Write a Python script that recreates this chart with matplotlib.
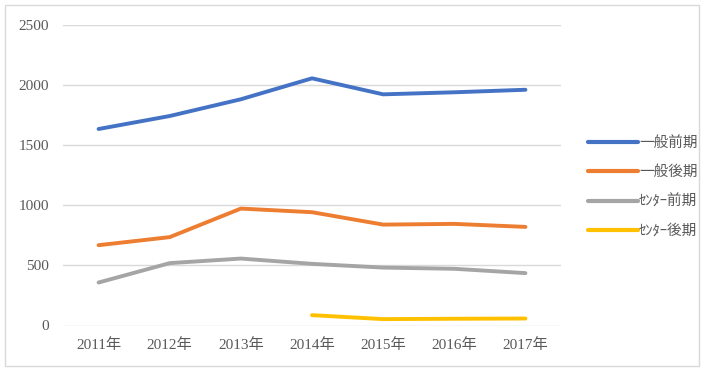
import matplotlib
matplotlib.use("Agg")
import matplotlib.pyplot as plt
from matplotlib.patches import Rectangle

years = ["2011年", "2012年", "2013年", "2014年", "2015年", "2016年", "2017年"]
ippan_zenki = [1632, 1740, 1879, 2053, 1920, 1937, 1958]
ippan_kouki = [667, 734, 971, 941, 838, 844, 819]
center_zenki = [357, 518, 556, 512, 481, 471, 435]
center_kouki = [None, None, None, 86, 53, 56, 58]
series_names = ["一般前期", "一般後期", "ｾﾝﾀｰ前期", "ｾﾝﾀｰ後期"]
colors = ["#4472C4", "#ED7D31", "#A5A5A5", "#FFC000"]
yticks = [0, 500, 1000, 1500, 2000, 2500]

fam = ["Liberation Serif", "Noto Sans CJK JP", "DejaVu Sans"]
plt.rcParams["font.family"] = fam

fig = plt.figure(figsize=(7.04, 3.74), dpi=100)
ax = fig.add_axes([63/704, 1 - 325.5/374, (561-63)/704, (325.5-24.5)/374])

x = list(range(len(years)))
all_series = [ippan_zenki, ippan_kouki, center_zenki, center_kouki]
for vals, name, c in zip(all_series, series_names, colors):
    xs = [i for i, v in zip(x, vals) if v is not None]
    ys = [v for v in vals if v is not None]
    ax.plot(xs, ys, color=c, lw=2.8, label=name, solid_capstyle="round",
            solid_joinstyle="round")

ax.set_xlim(-0.5, 6.5)
ax.set_ylim(0, 2500)
ax.set_yticks(yticks)
ax.set_xticks(x)
ax.set_xticklabels(years)
ax.grid(axis="y", color="#D9D9D9", lw=1)
ax.set_axisbelow(True)
for s in ax.spines.values():
    s.set_visible(False)
ax.tick_params(axis="both", length=0, labelsize=11, colors="#595959")
ax.tick_params(axis="y", pad=10)
ax.tick_params(axis="x", pad=9)

leg = fig.legend(loc="center left", bbox_to_anchor=(575/704, 1 - 187/374),
                 frameon=False, handlelength=3.4, handletextpad=0.1,
                 labelspacing=1.05, prop={"family": ["Noto Sans CJK JP"], "size": 10.5})
for t in leg.get_texts():
    t.set_color("#595959")
for l in leg.get_lines():
    l.set_linewidth(3)

fig.patches.append(Rectangle((4.5/704, 1 - 366/374), (699-4.5)/704, (366-5)/374,
                             transform=fig.transFigure, fill=False,
                             edgecolor="#D9D9D9", lw=1))

fig.savefig("out.png", dpi=100)
